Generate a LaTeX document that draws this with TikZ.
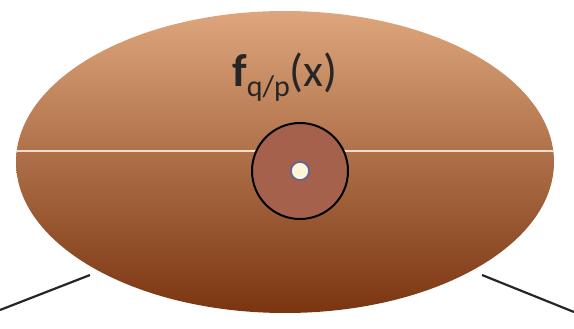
\documentclass[tikz,border=0pt]{standalone}
\usepackage{fontspec}
\setmainfont{Carlito}
\usepackage{tikz}
\definecolor{hadrontop}{HTML}{DEA67C}
\definecolor{hadronmid}{HTML}{BA642E}
\definecolor{hadronbot}{HTML}{7A3510}
\definecolor{partonfill}{HTML}{A5614B}
\definecolor{quarkfill}{HTML}{FFF6D6}
\definecolor{quarkedge}{HTML}{5565A5}
\definecolor{seamline}{HTML}{F2DCCB}

\begin{document}
\begin{tikzpicture}[x=1pt,y=-1pt]
\useasboundingbox (0,0) rectangle (574,329);
% incoming and outgoing legs
\coordinate (inA) at (0,310);
\coordinate (inB) at (90,275);
\coordinate (outA) at (482,275);
\coordinate (outB) at (574,312);
\draw[line width=2.2pt, black!85] (inA) -- (inB);
\draw[line width=2.2pt, black!85] (outA) -- (outB);
% hadron
\shade[top color=hadrontop, middle color=hadronmid, bottom color=hadronbot] (285,162) ellipse (269 and 151);
\coordinate (seamL) at (16,151);
\coordinate (seamR) at (554,151);
\draw[line width=1.8pt, seamline] (seamL) -- (seamR);
% parton and quark
\node[circle, draw=black, line width=2pt, fill=partonfill, minimum size=96pt, inner sep=0pt] (parton) at (300,171) {};
\node[circle, draw=quarkedge, line width=1.5pt, fill=quarkfill, minimum size=18pt, inner sep=0pt] (quark) at (parton.center) {};
\node[anchor=base, inner sep=0pt, text=black!85] (pdf) at (285,87)
  {\fontsize{46}{46}\selectfont\bfseries f\raisebox{-10pt}{\fontsize{30}{30}\selectfont\mdseries q/p}\mdseries(x)};
\end{tikzpicture}
\end{document}
